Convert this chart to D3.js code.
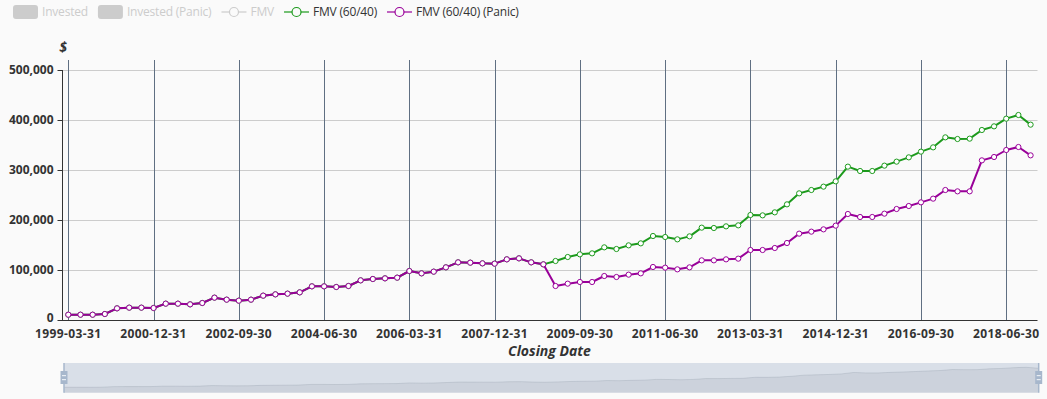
<!DOCTYPE html>
<html>
<head>
<meta charset="utf-8">
<script src="https://cdn.jsdelivr.net/npm/d3@7/dist/d3.min.js"></script>
<style>
  html, body { margin: 0; padding: 0; background: #fafafa; }
  svg { display: block; font-family: "Open Sans", "Noto Sans", sans-serif; }
</style>
</head>
<body>
<svg id="chart" width="1047" height="399"></svg>
<script>
const dates = [
  "1999-03-31","1999-06-30","1999-09-30","1999-12-31",
  "2000-03-31","2000-06-30","2000-09-30","2000-12-31",
  "2001-03-31","2001-06-30","2001-09-30","2001-12-31",
  "2002-03-31","2002-06-30","2002-09-30","2002-12-31",
  "2003-03-31","2003-06-30","2003-09-30","2003-12-31",
  "2004-03-31","2004-06-30","2004-09-30","2004-12-31",
  "2005-03-31","2005-06-30","2005-09-30","2005-12-31",
  "2006-03-31","2006-06-30","2006-09-30","2006-12-31",
  "2007-03-31","2007-06-30","2007-09-30","2007-12-31",
  "2008-03-31","2008-06-30","2008-09-30","2008-12-31",
  "2009-03-31","2009-06-30","2009-09-30","2009-12-31",
  "2010-03-31","2010-06-30","2010-09-30","2010-12-31",
  "2011-03-31","2011-06-30","2011-09-30","2011-12-31",
  "2012-03-31","2012-06-30","2012-09-30","2012-12-31",
  "2013-03-31","2013-06-30","2013-09-30","2013-12-31",
  "2014-03-31","2014-06-30","2014-09-30","2014-12-31",
  "2015-03-31","2015-06-30","2015-09-30","2015-12-31",
  "2016-03-31","2016-06-30","2016-09-30","2016-12-31",
  "2017-03-31","2017-06-30","2017-09-30","2017-12-31",
  "2018-03-31","2018-06-30","2018-09-30","2018-12-31"
];

const fmv6040 = [
  10600,10600,10600,12000,23300,24700,24700,24000,32700,32700,
  31300,34000,44700,40700,38700,40700,48700,51300,52700,55300,
  67300,67300,66000,68000,79300,82000,83300,84700,98000,93300,
  96700,105300,115300,114700,113300,112700,121300,123300,115300,111300,
  118000,126000,131300,133300,145300,142000,149300,153300,168000,166000,
  161300,167300,184700,184000,187300,189300,210000,209300,215300,231300,
  253300,260000,266700,277300,306700,298000,298000,308700,316700,325300,
  336700,345300,365300,362000,362700,380000,387300,402700,410000,390700
];

const fmv6040Panic = [
  10600,10600,10600,12000,23300,24700,24700,24000,32700,32700,
  31300,34000,44700,40700,38700,40700,48700,51300,52700,55300,
  67300,67300,66000,68000,79300,82000,83300,84700,98000,93300,
  96700,105300,115300,114700,113300,112700,121300,123300,115300,111300,
  68000,72700,76000,76000,88000,86000,90700,93300,106000,104700,
  101300,105300,119300,119300,121300,122700,140000,140000,144000,154000,
  172700,176700,181300,188700,212000,206000,206000,212700,222000,228000,
  235300,242700,260000,257300,257300,319300,326000,340000,346000,329300
];

const yTicks = [0, 100000, 200000, 300000, 400000, 500000];
const legendItems = ["Invested", "Invested (Panic)", "FMV", "FMV (60/40)", "FMV (60/40) (Panic)"];
const xAxisName = "Closing Date";
const yAxisName = "$";

const GREEN = "#1c9a1c";
const PURPLE = "#990099";

const svg = d3.select("#chart");

// background
svg.append("rect").attr("width", 1047).attr("height", 399).attr("fill", "#fafafa");

const x = d3.scalePoint().domain(dates).range([68.3, 1030.6]);
const y = d3.scaleLinear().domain([0, 500000]).range([320, 70]);

const gridLeft = 62, gridRight = 1037.5;

// horizontal split lines
svg.append("g").selectAll("line").data(yTicks.filter(d => d > 0)).join("line")
  .attr("x1", gridLeft).attr("x2", gridRight)
  .attr("y1", d => Math.round(y(d)) + 0.5).attr("y2", d => Math.round(y(d)) + 0.5)
  .attr("stroke", "#cccccc").attr("stroke-width", 1);

// vertical split lines at labeled categories
const labelIdx = d3.range(0, dates.length, 7);
svg.append("g").selectAll("line").data(labelIdx).join("line")
  .attr("x1", i => Math.round(x(dates[i])) + 0.5).attr("x2", i => Math.round(x(dates[i])) + 0.5)
  .attr("y1", 60).attr("y2", 320)
  .attr("stroke", "#5f6f82").attr("stroke-width", 1);

// y axis
const yAxis = d3.axisLeft(y).tickValues(yTicks).tickSize(5).tickPadding(4)
  .tickFormat(d3.format(","));
const gy = svg.append("g").attr("transform", `translate(${gridLeft + 0.5},0)`).call(yAxis);
gy.select(".domain").attr("stroke", "#333").attr("d", `M-0,${y(500000)}V${y(0)}`);
gy.selectAll(".tick line").attr("stroke", "#333");
gy.selectAll(".tick text").attr("fill", "#333").style("font-size", "12px").style("font-weight", "bold")
  .style("font-family", "'Open Sans', sans-serif");
gy.selectAll(".tick text").filter(d => d === 0).attr("dy", "0.12em");

// x axis line
svg.append("line").attr("x1", gridLeft).attr("x2", gridRight)
  .attr("y1", 320.5).attr("y2", 320.5).attr("stroke", "#333").attr("stroke-width", 1);

// x labels
svg.append("g").selectAll("text").data(labelIdx).join("text")
  .attr("x", i => x(dates[i])).attr("y", 338)
  .attr("text-anchor", "middle")
  .attr("fill", "#333").style("font-size", "12px").style("font-weight", "bold")
  .style("letter-spacing", "0.4px")
  .text(i => dates[i]);

// axis names
svg.append("text").attr("x", (x.range()[0] + x.range()[1]) / 2).attr("y", 356)
  .attr("text-anchor", "middle").attr("fill", "#333")
  .style("font-size", "14px").style("font-weight", "bold").style("font-style", "italic")
  .text(xAxisName);
svg.append("text").attr("x", 63).attr("y", 52)
  .attr("text-anchor", "middle").attr("fill", "#333")
  .style("font-size", "14px").style("font-weight", "bold").style("font-style", "italic")
  .text(yAxisName);

// series
function drawSeries(values, color) {
  const line = d3.line().x((d, i) => x(dates[i])).y(d => y(d));
  const g = svg.append("g");
  g.append("path").datum(values).attr("d", line).attr("fill", "none")
    .attr("stroke", color).attr("stroke-width", 2).attr("stroke-linejoin", "round");
  g.selectAll("circle").data(values).join("circle")
    .attr("cx", (d, i) => x(dates[i])).attr("cy", d => y(d)).attr("r", 2.6)
    .attr("fill", "#fff").attr("stroke", color).attr("stroke-width", 1);
}
drawSeries(fmv6040, GREEN);
drawSeries(fmv6040Panic, PURPLE);

// legend
const legend = svg.append("g");
let lx = 13;
const legendStyles = [
  { type: "rect", color: "#cccccc", text: "#cccccc" },
  { type: "rect", color: "#cccccc", text: "#cccccc" },
  { type: "line", color: "#cccccc", text: "#cccccc" },
  { type: "line", color: GREEN, text: "#333" },
  { type: "line", color: PURPLE, text: "#333" }
];
legendItems.forEach((name, k) => {
  const st = legendStyles[k];
  const cy = 12;
  if (st.type === "rect") {
    legend.append("rect").attr("x", lx).attr("y", cy - 7).attr("width", 25).attr("height", 14)
      .attr("rx", 3).attr("fill", st.color);
  } else {
    legend.append("line").attr("x1", lx).attr("x2", lx + 25).attr("y1", cy).attr("y2", cy)
      .attr("stroke", st.color).attr("stroke-width", 1.2);
    legend.append("circle").attr("cx", lx + 12.5).attr("cy", cy).attr("r", 4.5)
      .attr("fill", "#fafafa").attr("stroke", st.color).attr("stroke-width", 1.2);
  }
  const t = legend.append("text").attr("x", lx + 29).attr("y", cy + 4.2)
    .attr("fill", st.text).style("font-size", "12px").style("letter-spacing", "-0.2px").text(name);
  const w = t.node().getComputedTextLength();
  lx += 25 + 4 + w + 10;
});

// data zoom slider
const sx0 = 64, sx1 = 1038.7, sy0 = 363, sy1 = 392.7;
svg.append("rect").attr("x", sx0).attr("y", sy0).attr("width", sx1 - sx0).attr("height", sy1 - sy0)
  .attr("fill", "rgba(167,183,204,0.4)");
const sxs = d3.scalePoint().domain(dates).range([sx0, sx1]);
const sys = d3.scaleLinear().domain([0, 410000]).range([387.8, 367.3]);
const shadowArea = d3.area().x((d, i) => sxs(dates[i])).y0(sy1).y1(d => sys(d));
const shadowLine = d3.line().x((d, i) => sxs(dates[i])).y(d => sys(d));
svg.append("path").datum(fmv6040).attr("d", shadowArea).attr("fill", "rgba(47,69,84,0.08)");
svg.append("path").datum(fmv6040).attr("d", shadowLine).attr("fill", "none")
  .attr("stroke", "rgba(47,69,84,0.12)").attr("stroke-width", 1);
[sx0, sx1].forEach(hx => {
  const h = svg.append("g");
  h.append("line").attr("x1", hx).attr("x2", hx).attr("y1", sy0).attr("y2", sy1)
    .attr("stroke", "#a7b7cc").attr("stroke-width", 1.5);
  h.append("rect").attr("x", hx - 3.5).attr("y", 371).attr("width", 7).attr("height", 13)
    .attr("fill", "#a7b7cc");
  h.append("rect").attr("x", hx - 2).attr("y", 375).attr("width", 4).attr("height", 1.2).attr("fill", "#e8edf3");
  h.append("rect").attr("x", hx - 2).attr("y", 379).attr("width", 4).attr("height", 1.2).attr("fill", "#e8edf3");
});
</script>
</body>
</html>
